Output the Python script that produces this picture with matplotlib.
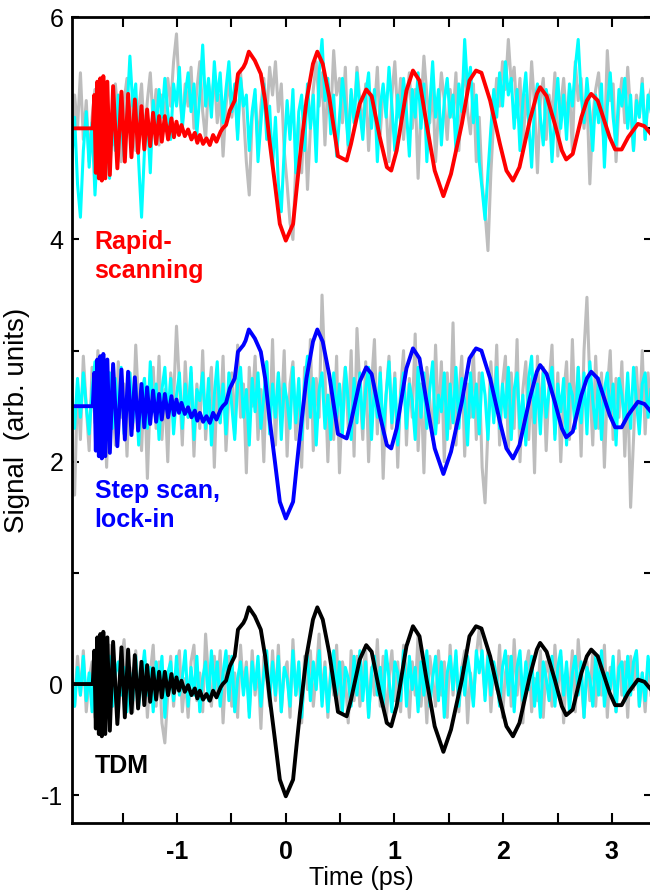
import numpy as np
import matplotlib
matplotlib.use("Agg")
import matplotlib.pyplot as plt

plt.rcParams["font.family"] = ["Liberation Sans", "DejaVu Sans"]

# 信号 (3本とも同じ波形, オフセットだけ違う)
sig_t = [-1.97, -1.776, -1.762, -1.748, -1.734, -1.720, -1.707, -1.693, -1.679, -1.661,
         -1.642, -1.619, -1.589, -1.550, -1.512, -1.481, -1.451, -1.420, -1.389, -1.359,
         -1.328, -1.302, -1.276, -1.248, -1.221, -1.193, -1.166, -1.141, -1.113, -1.083,
         -1.052, -1.029, -1.006, -0.983, -0.960, -0.929, -0.899, -0.868, -0.837, -0.814,
         -0.791, -0.761, -0.730, -0.699, -0.669, -0.638, -0.60, -0.58, -0.55, -0.515,
         -0.47, -0.44, -0.39, -0.37, -0.34, -0.285, -0.23, -0.19, -0.15, -0.10,
         -0.055, 0.0, 0.067, 0.098, 0.13, 0.19, 0.25, 0.29, 0.34, 0.40,
         0.45, 0.48, 0.56, 0.60, 0.68, 0.74, 0.79, 0.865, 0.93, 0.97,
         1.02, 1.11, 1.17, 1.23, 1.29, 1.37, 1.45, 1.52, 1.62, 1.69,
         1.75, 1.80, 1.88, 1.97, 2.03, 2.09, 2.15, 2.245, 2.31, 2.34,
         2.40, 2.475, 2.54, 2.58, 2.64, 2.72, 2.77, 2.81, 2.87, 2.93,
         2.98, 3.03, 3.09, 3.15, 3.24, 3.30, 3.36]
sig_y = [0.0, 0.0, 0.30, -0.40, 0.42, -0.45, 0.45, -0.47, 0.47, -0.45,
         0.42, -0.42, 0.38, -0.36, 0.33, -0.30, 0.31, -0.26, 0.26, -0.22,
         0.20, -0.19, 0.17, -0.16, 0.14, -0.14, 0.11, -0.12, 0.11, -0.10,
         0.09, -0.08, 0.06, -0.06, 0.03, -0.07, -0.01, -0.10, -0.04, -0.13,
         -0.06, -0.14, -0.09, -0.15, -0.06, -0.12, -0.03, 0.0, 0.03, 0.16,
         0.25, 0.49, 0.55, 0.59, 0.69, 0.61, 0.49, 0.25, -0.11, -0.50,
         -0.86, -1.01, -0.86, -0.56, -0.26, 0.25, 0.58, 0.69, 0.58, 0.28,
         -0.05, -0.25, -0.29, -0.14, 0.22, 0.35, 0.29, -0.08, -0.35, -0.38,
         -0.20, 0.34, 0.52, 0.43, 0.07, -0.38, -0.61, -0.41, 0.04, 0.43,
         0.52, 0.50, 0.25, -0.14, -0.38, -0.47, -0.35, 0.07, 0.31, 0.37,
         0.29, 0.04, -0.20, -0.28, -0.23, 0.10, 0.25, 0.31, 0.25, 0.07,
         -0.08, -0.19, -0.19, -0.08, 0.04, 0.02, -0.05]

offsets = [5.0, 2.5, 0.0]
colors = ["#ff0000", "#0000ff", "#000000"]
labels = [["Rapid-", "scanning"], ["Step scan,", "lock-in"], ["TDM"]]
label_y = [[3.91, 3.65], [1.67, 1.41], [-0.80]]

# ノイズ (ベースラインからのずれ)
gray_top = [-0.2, 0.3, 0.0, 0.5, -0.1, 0.25, -0.3, 0.1, 0.35, -0.05,
            0.2, -0.25, 0.3, 0.05, -0.15, 0.4, 0.1, -0.3, 0.25, 0.45,
            0.0, 0.3, -0.2, 0.15, 0.4, -0.1, 0.25, 0.5, 0.05, 0.35,
            -0.15, 0.3, 0.1, 0.45, 0.2, 0.6, 0.85, 0.3, 0.05, 0.4,
            0.2, 0.55, 0.0, 0.35, 0.6, 0.15, -0.1, 0.4, 0.2, 0.5,
            0.05, 0.3, -0.25, 0.2, 0.45, 0.1, 0.35, -0.05, 0.5, 0.15,
            -0.3, -0.6, 0.1, 0.3, -0.15, 0.2, 0.45, 0.1, 0.55, 0.3,
            0.6, 0.15, 0.4, -0.2, -0.5, -0.85, -1.0, -0.3, 0.1, -0.4,
            0.2, -0.55, 0.0, 0.35, 0.6, 0.2, 0.5, -0.15, 0.4, 0.1,
            0.7, 0.3, 0.45, 0.05, 0.55, -0.2, 0.3, 0.1, 0.55, 0.25,
            0.0, 0.4, -0.2, 0.3, 0.15, 0.55, -0.05, 0.35, 0.2, -0.3,
            0.3, 0.6, 0.1, 0.45, -0.1, 0.25, 0.5, 0.0, 0.35, -0.45,
            0.2, 0.65, 0.3, 0.05, 0.4, -0.3, 0.15, 0.5, 0.25, -0.1,
            0.35, 0.1, 0.5, -0.2, 0.3, 0.55, 0.15, -0.05, 0.4, -0.3,
            0.1, -0.5, -0.75, -1.1, -0.4, 0.1, 0.45, 0.2, 0.6, 0.35,
            0.8, 0.4, 0.55, 0.1, 0.45, -0.2, 0.3, 0.05, 0.6, 0.2,
            -0.4, 0.25, 0.45, -0.1, 0.3, 0.1, 0.5, -0.25, 0.2, 0.45,
            0.05, 0.35, -0.2, 0.6, 0.25, 0.45, 0.0, 0.3, -0.5, 0.1,
            0.35, 0.5, 0.1, -0.15, 0.7, 0.25, 0.4, -0.3, 0.2, 0.45,
            0.05, 0.55, 0.15, -0.2, 0.3, 0.1, 0.45, -0.1, 0.25, 0.35]
cyan_top = [-0.3, 0.1, -0.5, -0.8, -0.2, 0.15, -0.35, 0.05, -0.6, -0.1,
            0.2, -0.3, 0.0, -0.45, 0.1, -0.2, 0.3, 0.05, -0.25, 0.15,
            0.65, 0.2, 0.4, -0.3, -0.8, -0.2, 0.1, -0.4, 0.25, 0.0,
            0.35, 0.1, 0.45, 0.15, -0.1, 0.4, 0.2, 0.55, 0.0, 0.3,
            0.5, 0.15, 0.4, -0.05, 0.3, 0.75, 0.2, 0.45, 0.1, 0.6,
            0.25, 0.5, 0.05, 0.35, 0.6, 0.15, 0.4, -0.1, 0.45, 0.2,
            0.3, -0.2, 0.15, 0.35, -0.3, 0.05, 0.4, -0.1, 0.2, -0.35,
            0.1, -0.5, -0.75, -0.2, 0.25, -0.1, 0.35, -0.4, 0.15, 0.3,
            -0.2, 0.4, 0.0, 0.3, -0.3, 0.5, 0.8, 0.25, 0.45, -0.05,
            0.3, -0.25, 0.1, 0.45, 0.2, -0.15, 0.35, 0.05, 0.5, 0.15,
            -0.1, 0.3, 0.5, 0.0, 0.35, -0.3, 0.2, 0.4, 0.1, 0.55,
            0.2, -0.2, 0.3, 0.05, 0.45, 0.15, -0.25, 0.35, 0.1, 0.5,
            0.0, 0.4, -0.3, 0.2, 0.6, 0.1, 0.35, -0.15, 0.25, 0.45,
            0.1, 0.3, -0.2, 0.4, 0.15, 0.8, 0.35, 0.55, 0.05, 0.3,
            -0.3, -0.55, -0.82, -0.4, 0.0, 0.35, 0.1, 0.5, 0.2, 0.6,
            0.3, 0.45, 0.0, 0.35, -0.2, 0.25, 0.5, 0.05, -0.35, 0.2,
            0.4, 0.1, -0.15, 0.35, 0.2, -0.3, 0.15, 0.45, 0.0, 0.3,
            -0.1, 0.4, 0.2, 0.55, 0.8, 0.3, 0.05, 0.45, 0.15, -0.2,
            0.3, 0.05, 0.4, -0.35, 0.2, 0.5, 0.1, -0.15, 0.35, 0.2,
            0.45, 0.0, 0.3, -0.2, 0.25, 0.1, 0.4, -0.1, 0.3, 0.15]
gray_mid = [-0.5, -0.8, 0.2, -0.3, 0.45, 0.0, -0.4, 0.35, -0.15, 0.5,
            -0.25, 0.1, -0.55, 0.3, 0.05, -0.35, 0.4, -0.1, 0.2, -0.45,
            0.3, -0.2, 0.55, 0.0, -0.4, 0.25, -0.65, 0.1, 0.35, -0.2,
            0.45, -0.3, 0.15, -0.5, 0.3, 0.05, 0.72, 0.2, -0.35, 0.4,
            -0.1, 0.3, -0.45, 0.2, -0.2, 0.5, -0.3, 0.1, 0.35, -0.55,
            0.25, -0.15, 0.45, -0.4, 0.1, 0.3, -0.25, 0.55, -0.1, 0.2,
            -0.6, 0.35, 0.0, 0.45, -0.3, 0.15, -0.5, 0.4, -0.2, 0.6,
            -0.35, 0.3, -0.1, 0.5, -0.45, 0.2, 0.4, -0.3, 0.1, -0.55,
            0.35, -0.2, 0.6, -0.4, 0.25, -0.1, 1.0, 0.3, -0.5, 0.2,
            -0.3, 0.45, -0.6, 0.1, 0.35, -0.2, 0.5, -0.45, 0.7, 0.15,
            -0.3, 0.4, -0.5, 0.2, 0.6, -0.25, 0.35, -0.65, 0.1, 0.45,
            -0.2, 0.3, -0.55, 0.15, 0.5, -0.35, 0.25, -0.1, 0.65, -0.4,
            0.2, -0.6, 0.35, 0.05, -0.3, 0.55, -0.15, 0.4, -0.5, 0.3,
            -0.2, 0.75, -0.35, 0.1, 0.45, -0.45, 0.2, -0.1, 0.5, -0.3,
            0.3, -0.55, -0.87, -0.2, 0.4, -0.1, 0.55, -0.35, 0.2, 0.45,
            -0.4, 0.3, -0.2, 0.6, -0.5, 0.15, 0.4, -0.3, 0.25, -0.6,
            0.45, -0.1, 0.35, -0.4, 0.2, 0.55, -0.25, 0.3, -0.5, 0.1,
            0.4, -0.3, 0.6, -0.15, 0.35, -0.45, 0.5, 0.98, 0.2, -0.35,
            0.45, -0.2, 0.3, -0.55, 0.15, 0.5, -0.3, 0.25, -0.1, 0.4,
            -0.45, 0.2, -0.91, -0.3, 0.35, -0.15, 0.5, -0.25, 0.3, -0.1]
cyan_mid = [0.1, -0.2, 0.25, -0.1, 0.3, 0.0, -0.25, 0.15, 0.4, -0.15,
            0.2, -0.3, 0.1, 0.3, -0.2, 0.25, -0.1, 0.35, -0.25, 0.05,
            0.3, -0.15, 0.2, -0.35, 0.1, 0.25, -0.2, 0.4, -0.05, 0.2,
            -0.3, 0.15, 0.35, -0.1, 0.25, -0.25, 0.1, 0.3, -0.2, 0.2,
            -0.1, 0.35, -0.3, 0.15, 0.05, 0.3, -0.2, 0.25, -0.35, 0.1,
            0.4, -0.15, 0.2, -0.25, 0.3, 0.0, -0.3, 0.2, 0.35, -0.1,
            0.15, -0.35, 0.25, -0.05, 0.3, -0.2, 0.1, 0.4, -0.25, 0.2,
            -0.1, 0.3, -0.3, 0.2, 0.05, -0.2, 0.35, -0.15, 0.25, -0.3,
            0.2, 0.45, -0.1, 0.25, -0.35, 0.15, 0.3, -0.2, 0.1, -0.3,
            0.3, -0.1, 0.2, -0.25, 0.35, 0.05, -0.3, 0.25, -0.15, 0.3,
            -0.2, 0.15, 0.35, -0.3, 0.2, -0.1, 0.3, -0.25, 0.1, 0.4,
            -0.15, 0.25, -0.35, 0.1, 0.3, -0.2, 0.2, 0.05, -0.3, 0.35,
            -0.1, 0.3, -0.2, 0.15, 0.4, -0.25, 0.1, -0.05, 0.3, -0.3,
            0.2, -0.15, 0.35, -0.2, 0.25, 0.05, -0.35, 0.3, -0.1, 0.2,
            -0.25, 0.3, 0.1, -0.3, 0.25, -0.15, 0.35, -0.2, 0.2, -0.1,
            0.35, -0.3, 0.15, 0.3, -0.2, 0.1, -0.35, 0.25, 0.45, -0.15,
            0.2, -0.25, 0.3, -0.1, 0.15, 0.35, -0.3, 0.2, -0.05, 0.25,
            -0.35, 0.2, 0.1, -0.2, 0.35, -0.15, 0.3, -0.25, 0.4, 0.05,
            -0.2, 0.25, -0.3, 0.15, 0.3, -0.1, 0.2, -0.35, 0.25, 0.1,
            -0.15, 0.3, -0.2, 0.35, 0.05, -0.25, 0.2, 0.3, -0.1, 0.15]
gray_bot = [0.15, -0.2, 0.25, -0.1, 0.3, -0.25, 0.05, 0.2, -0.3, 0.1,
            -0.15, 0.25, -0.05, 0.35, -0.2, 0.1, -0.3, 0.2, 0.4, -0.1,
            0.15, -0.25, 0.3, -0.15, 0.05, 0.25, -0.3, 0.1, 0.35, -0.2,
            0.2, -0.35, -0.53, -0.1, 0.25, -0.2, 0.15, 0.3, -0.25, 0.05,
            -0.3, 0.2, 0.35, -0.15, 0.1, -0.25, 0.45, 0.05, -0.2, 0.25,
            -0.1, 0.3, -0.35, 0.15, 0.25, -0.2, 0.1, -0.3, 0.35, -0.05,
            0.2, -0.25, 0.3, -0.1, 0.15, -0.4, 0.25, 0.05, -0.2, 0.3,
            -0.15, 0.35, -0.25, 0.1, 0.2, -0.3, 0.4, -0.1, 0.15, -0.35,
            0.25, -0.05, 0.3, -0.2, 0.1, 0.45, -0.15, 0.2, -0.3, 0.15,
            -0.1, 0.35, -0.25, 0.2, 0.05, -0.35, 0.3, -0.15, 0.25, -0.2,
            0.1, 0.3, -0.3, 0.15, -0.1, 0.4, -0.2, 0.25, -0.35, 0.05,
            0.3, -0.15, 0.2, -0.25, 0.35, 0.1, -0.3, 0.2, -0.1, 0.45,
            -0.2, 0.15, -0.35, 0.25, 0.05, -0.2, 0.3, -0.1, 0.2, -0.3,
            0.35, -0.1, 0.25, -0.25, 0.15, 0.3, -0.35, 0.1, -0.15, 0.25,
            0.5, 0.2, -0.1, 0.3, -0.25, 0.15, -0.05, 0.35, -0.3, 0.1,
            0.25, -0.2, 0.4, -0.1, 0.2, -0.35, 0.15, 0.3, -0.25, 0.05,
            -0.15, 0.3, -0.3, 0.2, 0.1, -0.2, 0.35, -0.05, 0.25, -0.35,
            0.15, -0.1, 0.3, -0.25, 0.4, 0.05, -0.3, 0.2, -0.15, 0.3,
            -0.2, 0.25, -0.1, 0.35, -0.3, 0.15, 0.05, -0.25, 0.3, -0.1,
            0.2, -0.3, 0.25, -0.05, 0.3, -0.2, 0.1, -0.25, 0.2, -0.1]
cyan_bot = [0.05, -0.2, 0.15, -0.1, 0.25, -0.15, 0.1, -0.25, 0.2, 0.0,
            -0.15, 0.2, -0.05, 0.25, -0.2, 0.1, 0.2, -0.1, 0.15, -0.25,
            0.1, -0.15, 0.25, -0.2, 0.05, 0.3, -0.1, 0.15, -0.25, 0.2,
            -0.05, 0.25, -0.3, 0.1, 0.2, -0.15, 0.25, -0.1, 0.05, 0.3,
            -0.2, 0.15, -0.1, 0.25, -0.25, 0.05, 0.2, -0.15, 0.3, -0.05,
            0.2, -0.2, 0.1, 0.3, -0.15, 0.25, -0.25, 0.05, 0.2, -0.1,
            0.15, -0.3, 0.2, -0.05, 0.25, -0.2, 0.1, 0.3, -0.15, 0.2,
            -0.1, 0.25, -0.25, 0.15, 0.05, -0.2, 0.3, -0.1, 0.2, -0.3,
            0.1, 0.25, -0.15, 0.2, -0.05, 0.3, -0.2, 0.15, -0.25, 0.1,
            0.3, -0.1, 0.2, -0.25, 0.15, 0.05, -0.2, 0.25, -0.1, 0.3,
            -0.15, 0.2, -0.3, 0.1, 0.25, -0.1, 0.15, -0.2, 0.3, 0.05,
            -0.25, 0.2, 0.1, -0.15, 0.3, -0.2, 0.25, -0.05, 0.15, -0.25,
            0.2, -0.1, 0.3, -0.2, 0.05, 0.25, -0.15, 0.2, -0.3, 0.1,
            0.25, -0.05, 0.3, -0.2, 0.15, -0.1, 0.25, 0.05, -0.2, 0.3,
            0.1, 0.3, -0.15, 0.25, -0.1, 0.2, 0.05, -0.2, 0.15, 0.3,
            -0.1, 0.25, -0.25, 0.15, 0.3, -0.15, 0.2, -0.05, 0.25, -0.2,
            0.1, -0.3, 0.2, 0.05, -0.15, 0.25, -0.2, 0.15, 0.3, -0.1,
            0.2, -0.25, 0.1, 0.25, -0.1, 0.2, -0.3, 0.15, 0.05, -0.2,
            0.25, -0.1, 0.3, -0.2, 0.1, -0.05, 0.25, -0.25, 0.15, 0.2,
            -0.15, 0.25, -0.1, 0.2, 0.3, -0.2, 0.1, -0.15, 0.25, 0.05]

grays = [gray_top, gray_mid, gray_bot]
cyans = [cyan_top, cyan_mid, cyan_bot]

fig = plt.figure(figsize=(6.5, 8.92), dpi=100, facecolor="white")
ax = fig.add_axes([0.1103, 0.0774, 0.8912, 0.9033])

sig_t = np.array(sig_t)
sig_y = np.array(sig_y)
for k in range(3):
    g = np.array(grays[k])
    c = np.array(cyans[k])
    ax.plot(np.linspace(-1.97, 3.36, len(g)), g + offsets[k], color="#bdbdbd", lw=2.2)
    ax.plot(np.linspace(-1.97, 3.36, len(c)), c + offsets[k], color="#00ffff", lw=2.2)
    ax.plot(sig_t, sig_y + offsets[k], color=colors[k], lw=2.8)
    for txt, yy in zip(labels[k], label_y[k]):
        ax.text(-1.76, yy, txt, color=colors[k], fontsize=18, fontweight="bold",
                ha="left", va="baseline")

ax.set_xlim(-1.97, 3.36)
ax.set_ylim(-1.25, 6.0)
ax.set_xticks([-1, 0, 1, 2, 3])
ax.set_xticklabels(["-1", "0", "1", "2", "3"], fontweight="bold")
ax.set_xticks(np.arange(-1.5, 3.5, 0.5), minor=True)
ax.set_yticks(range(-1, 7))
ax.set_yticklabels(["-1", "0", "", "2", "", "4", "", "6"])
ax.tick_params(axis="both", which="both", direction="in", top=True, right=True,
               labelsize=18, width=1.5)
ax.tick_params(axis="x", which="both", length=7, pad=12)
ax.tick_params(axis="y", which="both", length=5, pad=6)
for s in ax.spines.values():
    s.set_linewidth(2)

ax.set_xlabel("Time (ps)", fontsize=18, labelpad=2)
ax.set_ylabel("Signal  (arb. units)", fontsize=20)
ax.yaxis.set_label_coords(-0.072, 0.5)

fig.savefig("out.png", dpi=100)
